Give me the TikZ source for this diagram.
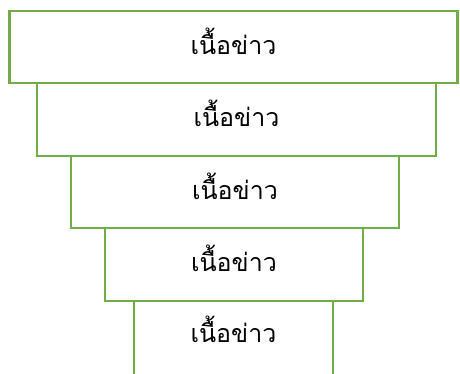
\documentclass[tikz,border=0pt]{standalone}
\usepackage{fontspec}
\newfontfamily\thaifont[Script=Thai]{Loma}
\definecolor{boxgreen}{RGB}{112,173,71}
\tikzset{
  newsbox/.style={draw=boxgreen, line width=2.6pt, rectangle, inner sep=0pt,
    text height=20pt, text depth=6pt,
    font=\thaifont\fontsize{25}{30}\selectfont}
}
\begin{document}
\begin{tikzpicture}[x=1pt,y=-1pt]
            % page frame
            \useasboundingbox (0,0) rectangle (460,373);

            % Stacked boxes, narrowing downwards
            \node[newsbox, minimum width=448pt, minimum height=72pt] (box1) at (233.5,47) {เนื้อข่าว};
            \node[newsbox, minimum width=399pt, minimum height=73pt] (box2) at (236.5,119.5) {เนื้อข่าว};
            \node[newsbox, minimum width=328pt, minimum height=72pt] (box3) at (235,192) {เนื้อข่าว};
            \node[newsbox, minimum width=258pt, minimum height=73pt] (box4) at (234,264.5) {เนื้อข่าว};
            \node[newsbox, minimum width=199pt, minimum height=76pt, text depth=14pt] (box5) at (233.5,339) {เนื้อข่าว};
        \end{tikzpicture}
\end{document}
